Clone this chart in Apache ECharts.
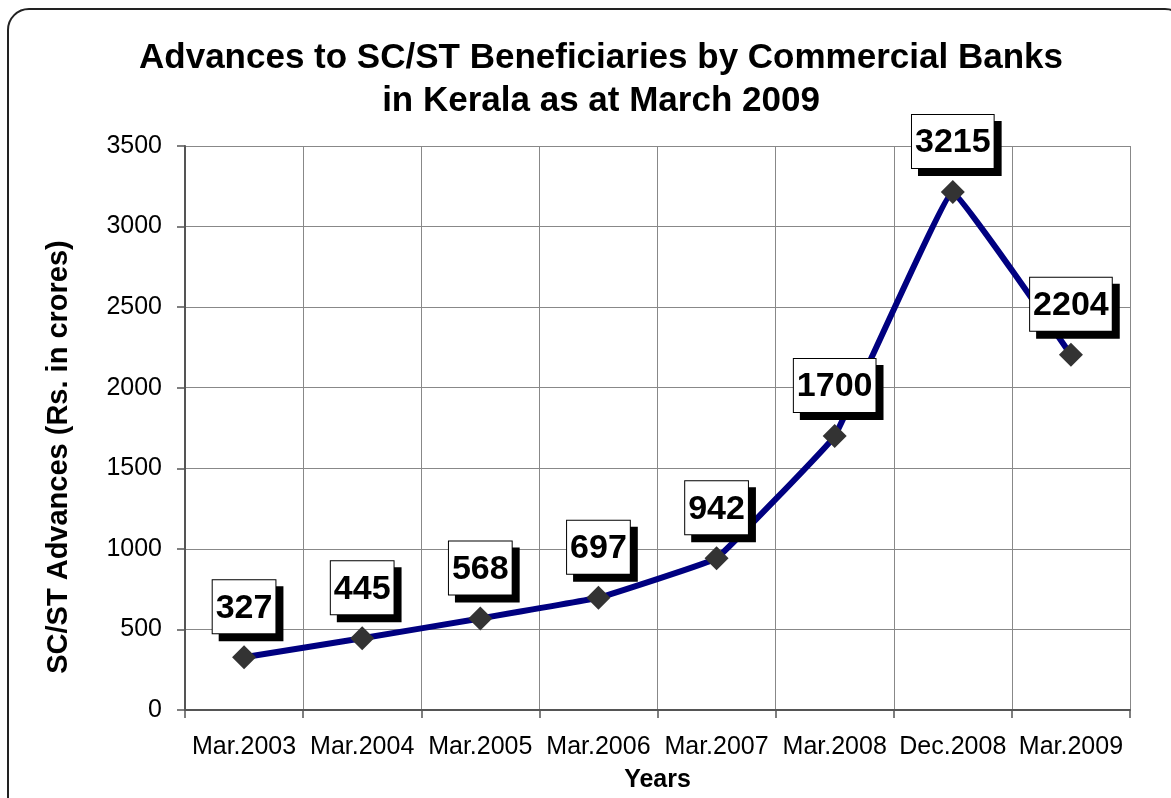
<!DOCTYPE html>
<html>
<head>
<meta charset="utf-8">
<script src="https://cdn.jsdelivr.net/npm/echarts@6/dist/echarts.min.js"></script>
<style>
  html, body {margin: 0; padding: 0; background: #fff;}
  #frame {position: absolute; left: 7px; top: 8px; width: 1180px; height: 820px;
    border: 2px solid #222; border-radius: 22px; box-sizing: border-box;}
  #chart {position: absolute; left: 0; top: 0; width: 1171px; height: 798px;}
</style>
</head>
<body>
<div id="frame"></div>
<div id="chart"></div>
<script>
const years = ['Mar.2003', 'Mar.2004', 'Mar.2005', 'Mar.2006', 'Mar.2007', 'Mar.2008', 'Dec.2008', 'Mar.2009']
const advances = [327, 445, 568, 697, 942, 1700, 3215, 2204]

const chart = echarts.init(document.getElementById('chart'))
const option = {
  animation: false,
  title: {
    text: 'Advances to SC/ST Beneficiaries by Commercial Banks\nin Kerala as at March 2009',
    left: 596,
    textAlign: 'center',
    top: 32,
    textStyle: {
      fontFamily: 'Liberation Sans, Arial',
      fontSize: 35,
      fontWeight: 'bold',
      color: '#000',
      lineHeight: 43
    }
  },
  grid: {
    left: 185,
    right: 41,
    top: 146,
    bottom: 88,
    outerBoundsMode: 'none'
  },
  xAxis: {
    type: 'category',
    data: years,
    boundaryGap: true,
    name: 'Years',
    nameLocation: 'middle',
    nameGap: 58,
    nameTextStyle: {fontFamily: 'Liberation Sans, Arial', fontSize: 25, fontWeight: 'bold', color: '#000'},
    axisLine: {lineStyle: {color: '#555', width: 2}},
    axisTick: {show: true, interval: 0, length: 8, lineStyle: {color: '#555', width: 1.5}},
    axisLabel: {interval: 0, hideOverlap: false, fontFamily: 'Liberation Sans, Arial', fontSize: 25, color: '#000', margin: 25},
    splitLine: {show: true, interval: 0, lineStyle: {color: '#888', width: 1}}
  },
  yAxis: {
    type: 'value',
    min: 0,
    max: 3500,
    interval: 500,
    name: 'SC/ST Advances (Rs. in crores)',
    nameLocation: 'middle',
    nameGap: 112,
    nameTextStyle: {fontFamily: 'Liberation Sans, Arial', fontSize: 29, fontWeight: 'bold', color: '#000', padding: [0, 58, 0, 0]},
    axisLine: {show: true, lineStyle: {color: '#555', width: 2}},
    axisTick: {show: true, length: 8, lineStyle: {color: '#555', width: 1.5}},
    axisLabel: {
      fontFamily: 'Liberation Sans, Arial', fontSize: 25, color: '#000', margin: 23,
      formatter: function (v) { return String(v) }
    },
    splitLine: {show: true, lineStyle: {color: '#888', width: 1}}
  },
  series: [
    {
      type: 'line',
      data: advances,
      smooth: 0.06,
      symbol: 'diamond',
      symbolSize: 24,
      lineStyle: {color: '#000080', width: 6},
      itemStyle: {color: '#333'},
      label: {
        show: true,
        position: 'top',
        distance: 12,
        fontFamily: 'Liberation Sans, Arial',
        fontSize: 34,
        fontWeight: 'bold',
        color: '#000',
        backgroundColor: '#fff',
        borderColor: '#000',
        borderWidth: 1,
        padding: [11, 3, 8, 3],
        shadowColor: '#000',
        shadowBlur: 0,
        shadowOffsetX: 7,
        shadowOffsetY: 7
      }
    }
  ]
}
chart.setOption(option)
window.addEventListener('resize', function () {
  chart.resize()
})
</script>
</body>
</html>
